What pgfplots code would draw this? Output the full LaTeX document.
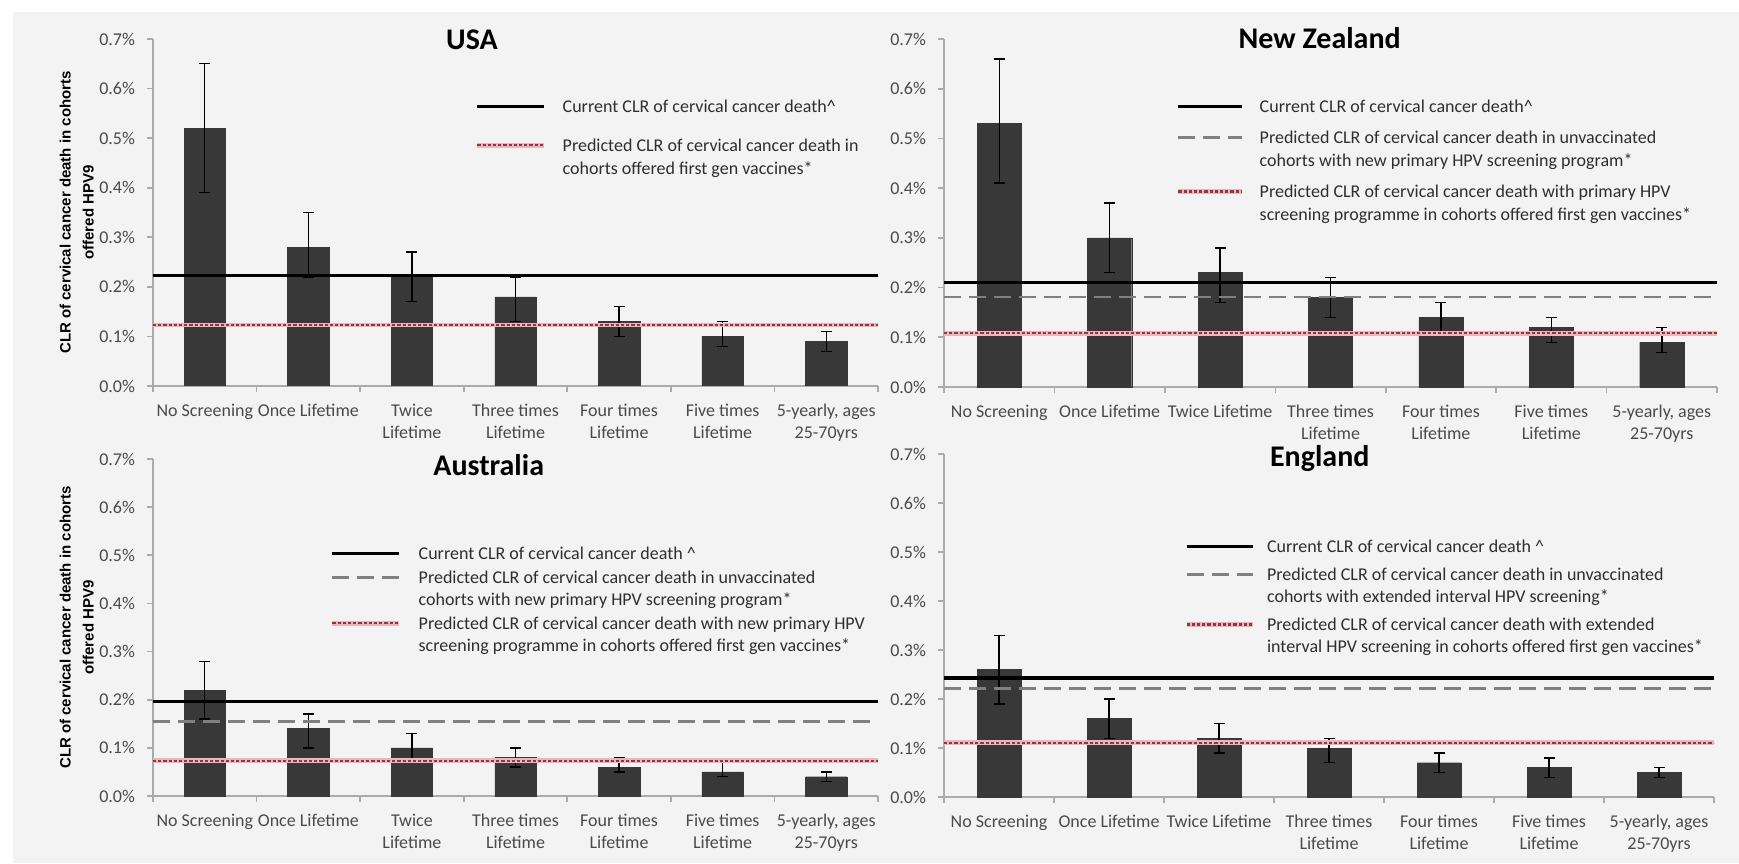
\documentclass[border=0pt]{standalone}
\usepackage{fontspec}
\setmainfont{Carlito}
\newfontfamily\labelfont{Liberation Sans}
\usepackage{pgfplots}
\usepackage{pgfplotstable}
\pgfplotsset{compat=1.18}

\definecolor{panelbg}{HTML}{F3F3F3}
\definecolor{barfill}{HTML}{383838}
\definecolor{axisgray}{HTML}{ABABAB}
\definecolor{ticktext}{HTML}{4A4A4A}
\definecolor{legtext}{HTML}{2E2E2E}
\definecolor{dashgray}{HTML}{808080}
\definecolor{vaxdark}{HTML}{8A3A42}
\definecolor{vaxpink}{HTML}{EDB4BA}

% Cumulative lifetime risk (%) of cervical cancer death by screening scenario:
% y = estimate, ep / em = distance to upper / lower bound
\pgfplotstableread{
x y ep em
0 0.52 0.13 0.13
1 0.28 0.07 0.06
2 0.22 0.05 0.05
3 0.18 0.04 0.05
4 0.13 0.03 0.03
5 0.10 0.03 0.02
6 0.09 0.02 0.02
}\usatab
\pgfplotstableread{
x y ep em
0 0.53 0.13 0.12
1 0.30 0.07 0.07
2 0.23 0.05 0.06
3 0.18 0.04 0.04
4 0.14 0.03 0.03
5 0.12 0.02 0.03
6 0.09 0.03 0.02
}\nztab
\pgfplotstableread{
x y ep em
0 0.22 0.06 0.06
1 0.14 0.03 0.04
2 0.10 0.03 0.03
3 0.08 0.02 0.02
4 0.06 0.02 0.01
5 0.05 0.02 0.01
6 0.04 0.01 0.01
}\austab
\pgfplotstableread{
x y ep em
0 0.26 0.07 0.07
1 0.16 0.04 0.04
2 0.12 0.03 0.03
3 0.10 0.02 0.03
4 0.07 0.02 0.02
5 0.06 0.02 0.02
6 0.05 0.01 0.01
}\engtab

% legend texts: the box baseline is that of the last line
\newcommand{\twolines}[2]{\begin{tabular}[b]{@{}l@{}}#1\\#2\end{tabular}}
\newcommand{\oneline}[1]{\begin{tabular}[b]{@{}l@{}}#1\end{tabular}}

\pgfplotsset{
  clrpanel/.style={
    scale only axis,
    xmin=-0.5, xmax=6.5, ymin=0, ymax=0.7,
    axis x line*=bottom, axis y line*=left,
    axis line style={draw=axisgray, line width=0.8pt},
    tick align=outside,
    major tick length=3pt, minor tick length=3pt,
    tick style={draw=axisgray, line width=0.8pt},
    every major x tick/.style={draw=none},
    xtick={0,1,2,3,4,5,6},
    minor xtick={-0.5,0.5,1.5,2.5,3.5,4.5,5.5,6.5},
    ytick={0,0.1,0.2,0.3,0.4,0.5,0.6,0.7},
    yticklabels={0.0\%,0.1\%,0.2\%,0.3\%,0.4\%,0.5\%,0.6\%,0.7\%},
    tick label style={font=\fontsize{9}{11}\selectfont, text=ticktext},
    xticklabel style={align=center, yshift=-2.5pt},
    yticklabel style={xshift=-2.5pt},
    title style={anchor=center, yshift=0pt, font=\fontsize{15}{18}\selectfont\bfseries},
    ylabel style={at={(axis description cs:-0.105,0.5)}, anchor=center, align=center,
      font=\labelfont\bfseries\fontsize{7.5}{11.5}\selectfont},
    legend style={draw=none, fill=none, inner sep=0pt, outer sep=0pt,
      nodes={inner sep=0pt, outer sep=0pt, text=legtext},
      cells={anchor=base west},
      anchor=north west},
  },
  clrbars/.style={ybar, bar width=0.4, fill=barfill, draw=barfill, line width=0.2pt,
    forget plot,
    error bars/.cd, y dir=both, y explicit,
    error mark=-,
    error bar style={draw=black, line width=0.7pt, solid},
    error mark options={rotate=90, draw=black, line width=0.7pt, mark size=2.75pt, solid}},
  current/.style={black, line width=1.6pt},
  unvax/.style={dashgray, line width=1.4pt, dash pattern=on 8.5pt off 4pt},
  vax/.style={draw=vaxdark, line width=1.1pt, dash pattern=on 1.6pt off 1pt,
    preaction={draw=vaxpink, line width=2.4pt, solid}},
  % line swatch beside a one-line / two-line legend text
  swatch/.style 2 args={legend image code/.code={\draw[##1] (0pt,#1) -- (#2,#1);}},
}

\begin{document}
\begin{tikzpicture}
\path (0,0) rectangle (869.5pt,431.5pt);
\fill[panelbg] (6.5pt,0) rectangle (869.5pt,425.5pt);

% ---------------- USA ----------------
\begin{axis}[clrpanel, at={(76.5pt,238.5pt)}, anchor=south west,
  width=362.5pt, height=173.5pt,
  title={USA}, title style={at={(axis description cs:0.44,0.9625)}},
  ylabel={CLR of cervical cancer death in cohorts\\offered HPV9},
  xticklabels={No Screening,Once Lifetime,{Twice\\Lifetime},{Three times\\Lifetime},
    {Four times\\Lifetime},{Five times\\Lifetime},{5-yearly, ages\\25-70yrs}},
  legend style={at={(axis description cs:0.444,0.835)}, row sep={31pt,between origins},
    column sep=8pt, font=\fontsize{9}{11.5}\selectfont},
]
\addplot[clrbars] table[x=x, y=y, y error plus=ep, y error minus=em] {\usatab};
\addplot[current, swatch={3pt}{33.5pt}] coordinates {(-0.5,0.223) (6.5,0.223)};
\addlegendentry{\oneline{Current CLR of cervical cancer death\textasciicircum}}
\addplot[vax, swatch={14.5pt}{33.5pt}] coordinates {(-0.5,0.123) (6.5,0.123)};
\addlegendentry{\twolines{Predicted CLR of cervical cancer death in}{cohorts offered first gen vaccines*}}
\end{axis}

% ---------------- New Zealand ----------------
\begin{axis}[clrpanel, at={(472pt,238pt)}, anchor=south west,
  width=386.5pt, height=174pt,
  title={New Zealand}, title style={at={(axis description cs:0.486,0.968)}},
  xticklabels={No Screening,Once Lifetime,Twice Lifetime,{Three times\\Lifetime},
    {Four times\\Lifetime},{Five times\\Lifetime},{5-yearly, ages\\25-70yrs}},
  legend style={at={(axis description cs:0.300,0.835)}, row sep={27pt,between origins},
    column sep=7.5pt, font=\fontsize{9}{11.5}\selectfont},
]
\addplot[clrbars] table[x=x, y=y, y error plus=ep, y error minus=em] {\nztab};
\addplot[current, swatch={3pt}{32pt}] coordinates {(-0.5,0.210) (6.5,0.210)};
\addlegendentry{\oneline{Current CLR of cervical cancer death\textasciicircum}}
\addplot[unvax, swatch={14.5pt}{32pt}] coordinates {(-0.5,0.181) (6.5,0.181)};
\addlegendentry{\twolines{Predicted CLR of cervical cancer death in unvaccinated}{cohorts with new primary HPV screening program*}}
\addplot[vax, swatch={14.5pt}{32pt}] coordinates {(-0.5,0.108) (6.5,0.108)};
\addlegendentry{\twolines{Predicted CLR of cervical cancer death with primary HPV}{screening programme in cohorts offered first gen vaccines*}}
\end{axis}

% ---------------- Australia ----------------
\begin{axis}[clrpanel, at={(76.5pt,33.5pt)}, anchor=south west,
  width=362.5pt, height=168.5pt,
  title={Australia}, title style={at={(axis description cs:0.463,0.947)}},
  ylabel={CLR of cervical cancer death in cohorts\\offered HPV9},
  xticklabels={No Screening,Once Lifetime,{Twice\\Lifetime},{Three times\\Lifetime},
    {Four times\\Lifetime},{Five times\\Lifetime},{5-yearly, ages\\25-70yrs}},
  legend style={at={(axis description cs:0.244,0.748)}, row sep={23pt,between origins},
    column sep=8.5pt, font=\fontsize{9}{11}\selectfont},
]
\addplot[clrbars] table[x=x, y=y, y error plus=ep, y error minus=em] {\austab};
\addplot[current, swatch={3pt}{33.5pt}] coordinates {(-0.5,0.197) (6.5,0.197)};
\addlegendentry{\oneline{Current CLR of cervical cancer death \textasciicircum}}
\addplot[unvax, swatch={14pt}{33.5pt}] coordinates {(-0.5,0.155) (6.5,0.155)};
\addlegendentry{\twolines{Predicted CLR of cervical cancer death in unvaccinated}{cohorts with new primary HPV screening program*}}
\addplot[vax, swatch={14pt}{33.5pt}] coordinates {(-0.5,0.073) (6.5,0.073)};
\addlegendentry{\twolines{Predicted CLR of cervical cancer death with new primary HPV}{screening programme in cohorts offered first gen vaccines*}}
\end{axis}

% ---------------- England ----------------
\begin{axis}[clrpanel, at={(472pt,33pt)}, anchor=south west,
  width=385pt, height=171.5pt,
  title={England}, title style={at={(axis description cs:0.488,0.953)}},
  xticklabels={No Screening,Once Lifetime,Twice Lifetime,{Three times\\Lifetime},
    {Four times\\Lifetime},{Five times\\Lifetime},{5-yearly, ages\\25-70yrs}},
  legend style={at={(axis description cs:0.312,0.758)}, row sep={25pt,between origins},
    column sep=6pt, font=\fontsize{9}{11}\selectfont},
]
\addplot[clrbars] table[x=x, y=y, y error plus=ep, y error minus=em] {\engtab};
\addplot[current, swatch={3pt}{33pt}] coordinates {(-0.5,0.243) (6.5,0.243)};
\addlegendentry{\oneline{Current CLR of cervical cancer death \textasciicircum}}
\addplot[unvax, swatch={14pt}{33pt}] coordinates {(-0.5,0.221) (6.5,0.221)};
\addlegendentry{\twolines{Predicted CLR of cervical cancer death in unvaccinated}{cohorts with extended interval HPV screening*}}
\addplot[vax, swatch={14pt}{33pt}] coordinates {(-0.5,0.111) (6.5,0.111)};
\addlegendentry{\twolines{Predicted CLR of cervical cancer death with extended}{interval HPV screening in cohorts offered first gen vaccines*}}
\end{axis}
\end{tikzpicture}
\end{document}
